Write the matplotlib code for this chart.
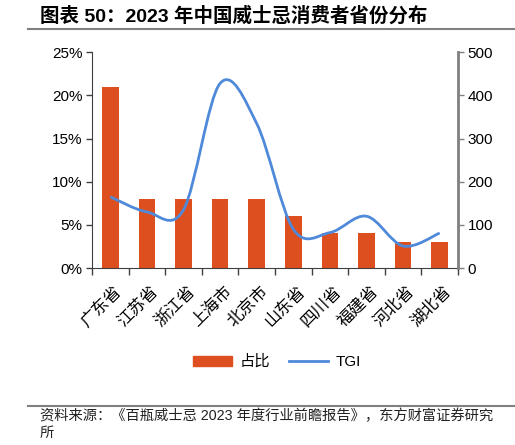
import matplotlib
matplotlib.use("Agg")
import matplotlib.pyplot as plt
from matplotlib.path import Path
from matplotlib.patches import PathPatch, Patch
from matplotlib.lines import Line2D
from matplotlib.transforms import ScaledTranslation
from matplotlib.ticker import FuncFormatter, MultipleLocator

plt.rcParams["font.family"] = ["Liberation Sans", "Noto Sans CJK SC", "DejaVu Sans"]

provinces = ["广东省", "江苏省", "浙江省", "上海市", "北京市",
             "山东省", "四川省", "福建省", "河北省", "湖北省"]
share = [21, 8, 8, 8, 8, 6, 4, 4, 3, 3]          # %
tgi = [165, 130, 135, 428, 335, 90, 82, 120, 51, 81]

bar_color = "#DD4F1E"
line_color = "#4F89DA"

fig = plt.figure(figsize=(5.15, 4.45), dpi=100)
ax = fig.add_axes([92 / 515, 1 - 268 / 445, 366 / 515, (268 - 52.3) / 445])
ax2 = ax.twinx()

x = list(range(len(provinces)))
ax.bar(x, share, width=0.45, color=bar_color, zorder=2)
ax.set_xlim(-0.5, len(provinces) - 0.5)
ax.set_ylim(0, 25)
ax.yaxis.set_major_locator(MultipleLocator(5))
ax.yaxis.set_major_formatter(FuncFormatter(lambda v, p: f"{v:.0f}%"))

# smoothed TGI line (Catmull-Rom style bezier through the points)
verts = [(x[0], tgi[0])]
codes = [Path.MOVETO]
n = len(x)
for i in range(n - 1):
    p0 = (x[max(i - 1, 0)], tgi[max(i - 1, 0)])
    p1 = (x[i], tgi[i])
    p2 = (x[i + 1], tgi[i + 1])
    p3 = (x[min(i + 2, n - 1)], tgi[min(i + 2, n - 1)])
    c1 = (p1[0] + (p2[0] - p0[0]) / 6, p1[1] + (p2[1] - p0[1]) / 6)
    c2 = (p2[0] - (p3[0] - p1[0]) / 6, p2[1] - (p3[1] - p1[1]) / 6)
    verts += [c1, c2, p2]
    codes += [Path.CURVE4] * 3
ax2.add_patch(PathPatch(Path(verts, codes), facecolor="none",
                        edgecolor=line_color, linewidth=2, zorder=3))
ax2.set_ylim(0, 500)
ax2.yaxis.set_major_locator(MultipleLocator(100))

# x ticks at category boundaries, labels at centres
ax.set_xticks([i - 0.5 for i in range(len(provinces) + 1)])
ax.set_xticklabels([])
ax.set_xticks(x, minor=True)
ax.set_xticklabels(provinces, minor=True, rotation=45, ha="right",
                   va="center", rotation_mode="anchor", fontsize=12,
                   family=["Noto Sans CJK SC"])
ax.tick_params(axis="x", which="minor", length=0, pad=15)
ax.tick_params(axis="x", which="major", length=5, width=1, color="#404040",
               direction="out")
shift = ScaledTranslation(9 / 100, 0, fig.dpi_scale_trans)
for lab in ax.get_xticklabels(minor=True):
    lab.set_transform(lab.get_transform() + shift)

ax.tick_params(axis="y", length=4, width=1, color="#404040",
               labelsize=11, pad=3)
ax2.tick_params(axis="y", length=4, width=1, color="#808080",
                labelsize=11, pad=3)

for a in (ax, ax2):
    a.spines["top"].set_visible(False)
ax.spines["right"].set_visible(False)
ax2.spines["left"].set_visible(False)
ax2.spines["bottom"].set_visible(False)
ax.spines["left"].set_color("#404040")
ax.spines["bottom"].set_color("#404040")
ax2.spines["right"].set_color("#808080")
ax2.spines["right"].set_linewidth(2)

handles = [Patch(color=bar_color), Line2D([], [], color=line_color, linewidth=2)]
fig.legend(handles, ["占比", "TGI"], loc="center", ncol=2, frameon=False,
           bbox_to_anchor=(277 / 515, 1 - 362 / 445), fontsize=11,
           handlelength=2.6, handleheight=0.65, handletextpad=0.5,
           columnspacing=1.2)

# title, rules and source
fig.text(40 / 515, 1 - 16 / 445, "图表 50：2023 年中国威士忌消费者省份分布",
         fontsize=14, fontweight="bold", va="center", ha="left",
         family=["Liberation Sans", "Noto Sans CJK SC"])
fig.add_artist(Line2D([28 / 515, 1.0], [1 - 29 / 445, 1 - 29 / 445],
                      color="#808080", linewidth=1.5))
fig.add_artist(Line2D([28 / 515, 1.0], [1 - 406 / 445, 1 - 406 / 445],
                      color="#808080", linewidth=1.5))
fig.text(40 / 515, 1 - 408.5 / 445,
         "资料来源：《百瓶威士忌 2023 年度行业前瞻报告》，东方财富证券研究\n所",
         fontsize=10.3, va="top", ha="left", color="#222222", linespacing=1.25)

fig.savefig("out.png", dpi=100)
